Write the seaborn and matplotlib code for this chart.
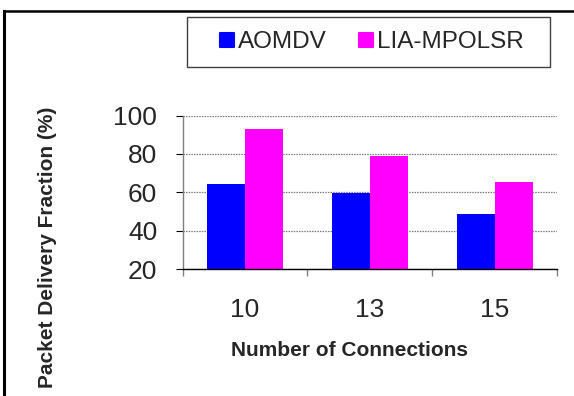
import matplotlib
matplotlib.use("Agg")
import matplotlib.pyplot as plt
from matplotlib.lines import Line2D
from matplotlib.patches import Rectangle
from matplotlib.markers import MarkerStyle
import seaborn as sns
import pandas as pd

# Packet delivery fraction per protocol and number of connections
connections = ["10", "13", "15"]
protocols = ["AOMDV", "LIA-MPOLSR"]
aomdv = [64.5, 59.5, 48.8]
lia_mpolsr = [92.8, 79.1, 65.4]
colors = ["#0000FF", "#FF00FF"]
y_ticks = [20, 40, 60, 80, 100]

df = pd.DataFrame({
    "Connections": connections * 2,
    "Protocol": [protocols[0]] * 3 + [protocols[1]] * 3,
    "PDF": aomdv + lia_mpolsr,
})

sns.set_theme(style="white")
plt.rcParams["font.family"] = ["Liberation Sans", "DejaVu Sans"]

W, H = 574, 396
fig = plt.figure(figsize=(W / 100, H / 100), dpi=100)
ax_l, ax_r, ax_t, ax_b = 182.7, 557.0, 115.5, 269.3
ax = fig.add_axes([ax_l / W, 1 - ax_b / H, (ax_r - ax_l) / W, (ax_b - ax_t) / H])

sns.barplot(data=df, x="Connections", y="PDF", hue="Protocol",
            palette=colors, width=0.61, linewidth=0, saturation=1,
            ax=ax, legend=False, zorder=3)

ax.set_ylim(20, 100)
ax.set_xlim(-0.5, 2.5)
ax.set_yticks(y_ticks)
ax.set_yticklabels([str(v) for v in y_ticks], fontsize=19)

# category boundaries as major ticks, labels on minor ticks
ax.set_xticks([-0.5, 0.5, 1.5, 2.5])
ax.set_xticklabels([])
ax.set_xticks([0, 1, 2], minor=True)
ax.set_xticklabels(connections, minor=True, fontsize=19)
ax.tick_params(axis="x", which="major", length=7.5 / 1.389, width=1.0,
               color="#808080", direction="out", bottom=True)
ax.tick_params(axis="x", which="minor", length=0, pad=21, bottom=True)
ax.tick_params(axis="y", length=7.5 / 1.389, width=0.8, color="black",
               direction="out", pad=13, left=True)

ax.yaxis.grid(True, linestyle=(0, (1.2, 0.9)), linewidth=0.9, color="#7a7a7a", zorder=0)
ax.xaxis.grid(False)
for s in ["top", "right"]:
    ax.spines[s].set_visible(False)
ax.spines["left"].set_color("#808080")
ax.spines["left"].set_linewidth(1.0)
ax.spines["bottom"].set_color("black")
ax.spines["bottom"].set_linewidth(1.0)
ax.spines["bottom"].set_zorder(4)

ax.set_xlabel("Number of Connections", fontsize=15, fontweight="bold")
ax.xaxis.set_label_coords((349 - ax_l) / (ax_r - ax_l), (ax_b - 350) / (ax_b - ax_t))
ax.xaxis.label.set_va("center")
ax.set_ylabel("Packet Delivery Fraction (%)", fontsize=15, fontweight="bold")
ax.yaxis.set_label_coords((47 - ax_l) / (ax_r - ax_l), (ax_b - 247.5) / (ax_b - ax_t))
ax.yaxis.label.set_va("center")
ax.yaxis.label.set_ha("center")

# legend with its own rectangular frame
fig.add_artist(Rectangle((187 / W, 1 - 66.7 / H), (550 - 187) / W, 50 / H,
                         transform=fig.transFigure, fill=False,
                         edgecolor="#404040", linewidth=1.0))
handles = [Line2D([], [], linestyle="none",
                  marker=MarkerStyle("s", joinstyle="round"),
                  markersize=10, markerfacecolor=c, markeredgecolor=c,
                  markeredgewidth=1.5) for c in colors]
fig.legend(handles, protocols, loc="center", bbox_to_anchor=(371 / W, 1 - 42 / H),
           ncol=2, frameon=False, fontsize=17.5, handlelength=0.72,
           handletextpad=0.12, columnspacing=1.23, borderpad=0, borderaxespad=0)

# outer border of the figure panel
fig.add_artist(Line2D([4 / W, 4 / W], [1 - 11 / H, -0.1], transform=fig.transFigure,
                      color="black", linewidth=2.2, solid_capstyle="projecting"))
fig.add_artist(Line2D([4 / W, 1.1], [1 - 11 / H, 1 - 11 / H], transform=fig.transFigure,
                      color="black", linewidth=1.8, solid_capstyle="projecting"))

fig.savefig("out.png", dpi=100)
